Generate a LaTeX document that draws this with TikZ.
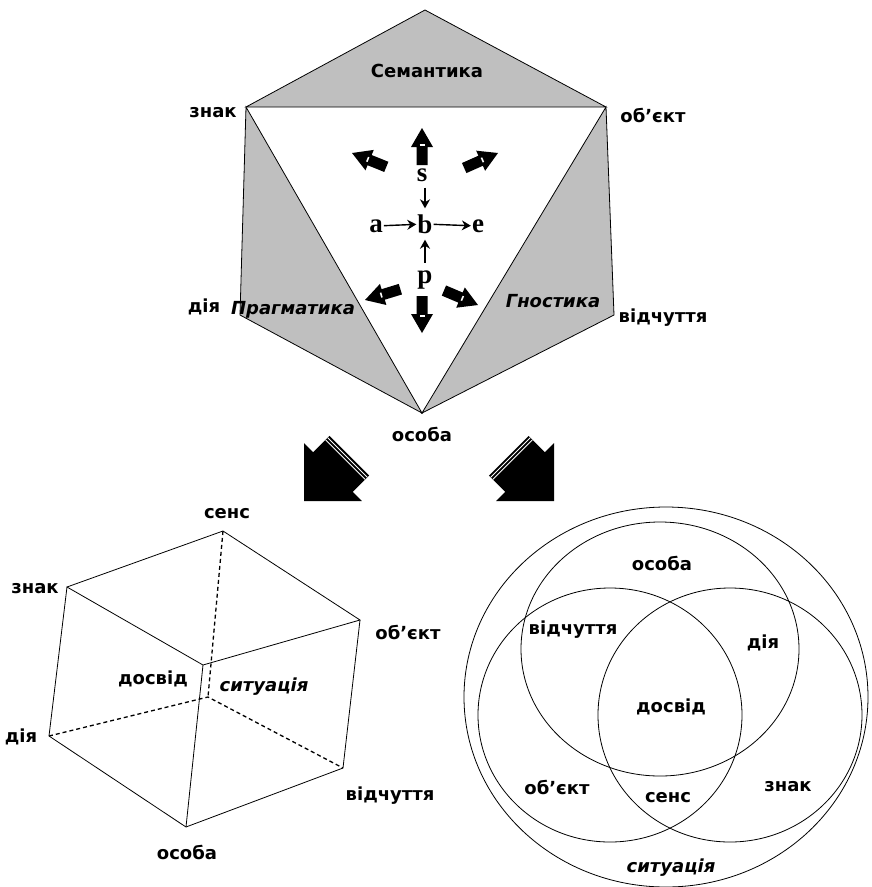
\documentclass[tikz,border=0pt]{standalone}
\usepackage{fontspec}
\setmainfont{DejaVu Sans}
\newfontfamily\lettfont{Liberation Serif}
\usetikzlibrary{arrows.meta,positioning}

% small block arrow: tip x, tip y, angle
\newcommand{\blockarr}[3]{%
	\begin{scope}[shift={(#1,#2)},rotate=#3]
		\fill (0,0) -- (-19,11) -- (-19,5.5) -- (-37,5.5) -- (-37,-5.5) -- (-19,-5.5) -- (-19,-11) -- cycle;
		\draw[white,line width=1.6pt] (-17,-2.5) -- (-17,2.5);
	\end{scope}}
% big striped arrow: tip x, tip y, angle
\newcommand{\stripearr}[3]{%
	\begin{scope}[shift={(#1,#2)},rotate=#3]
		\fill (0,0) -- (-41,41) -- (-41,28) -- (-64,28) -- (-64,-28) -- (-41,-28) -- (-41,-41) -- cycle;
		\draw[white,line width=0.8pt] (-58.5,-28) -- (-58.5,28);
		\draw[white,line width=0.8pt] (-61.5,-28) -- (-61.5,28);
	\end{scope}}

\begin{document}
\begin{tikzpicture}[x=1pt,y=-1pt,
	lab/.style={font=\bfseries\fontsize{18}{20}\selectfont, inner sep=1pt},
	ilab/.style={font=\bfseries\itshape\fontsize{18}{20}\selectfont, inner sep=1pt},
	grayface/.style={fill=black!25, draw=black, line width=0.8pt},
	cubeline/.style={line width=0.8pt},
	hidden/.style={line width=1.3pt, dash pattern=on 4pt off 3pt},
	letter/.style={font=\lettfont\bfseries\fontsize{27}{29}\selectfont, inner sep=1pt},
	thinarrow/.style={line width=1.4pt, -{Stealth[length=9pt,width=10pt]}}]
	
	\useasboundingbox (0,0) rectangle (871,887);
	
	% triangle of signs
	\coordinate (apex) at (425,10);
	\coordinate (znak) at (246,107);
	\coordinate (obj) at (606,107);
	\coordinate (diia) at (240,315);
	\coordinate (vidch) at (614,315);
	\coordinate (osoba) at (422,413);
	
	\draw [grayface] (znak) -- (apex) -- (obj) -- cycle;
	\draw [grayface] (znak) -- (diia) -- (osoba) -- cycle;
	\draw [grayface] (obj) -- (vidch) -- (osoba) -- cycle;
	
	\node (semant) [lab] at (427,71) {Семантика};
	\node (pragm) [ilab] at (293,310) {Прагматика};
	\node (gnost) [ilab] at (553,301) {Гностика};
	\node (tznak) [lab] at (213,113) {знак};
	\node (tobj) [lab] at (653,115) {об’єкт};
	\node (tdiia) [lab] at (204,307) {дія};
	\node (tvidch) [lab] at (663,318) {відчуття};
	\node (tosoba) [lab] at (422,434) {особа};
	
	\node (s) [letter] at (422,175) {s};
	\node (b) [letter] at (425,224) {b};
	\node (a) [letter] at (376,226) {a};
	\node (e) [letter] at (478,226) {e};
	\node (p) [letter] at (425,280) {p};
	
	\draw [thinarrow] (a) -- (b);
	\draw [thinarrow] (b) -- (e);
	\draw [thinarrow, shorten <=5pt, shorten >=5pt] (s.south -| b) -- (b.north);
	\draw [thinarrow, shorten <=7pt, shorten >=5pt] (p.north -| b) -- (b.south);
	
	\blockarr{422}{128}{90}
	\blockarr{352}{153}{158}
	\blockarr{498}{153}{24}
	\blockarr{365}{300}{197}
	\blockarr{478}{305}{-23}
	\blockarr{422}{333}{270}
	
	\stripearr{304}{501}{225}
	\stripearr{554}{501}{-45}
	
	% cube
	\coordinate (csens) at (223,531);
	\coordinate (cznak) at (67,587);
	\coordinate (cobj) at (360,620);
	\coordinate (cfront) at (203,665);
	\coordinate (cback) at (208,697);
	\coordinate (cdiia) at (49,736);
	\coordinate (cvidch) at (343,768);
	\coordinate (cosoba) at (186,827);
	
	\draw [cubeline] (cznak) -- (csens) -- (cobj) -- (cfront) -- cycle;
	\draw [cubeline] (cznak) -- (cdiia) -- (cosoba) -- (cvidch) -- (cobj);
	\draw [cubeline] (cfront) -- (cosoba);
	\draw [hidden] (csens) -- (cback);
	\draw [hidden] (cdiia) -- (cback) -- (cvidch);
	
	\node (lsens) [lab] at (227,514) {сенс};
	\node (lznak) [lab] at (35,589) {знак};
	\node (lobj) [lab] at (408,632) {об’єкт};
	\node (ldiia) [lab] at (21,737) {дія};
	\node (lvidch) [lab] at (390,796) {відчуття};
	\node (losoba) [lab] at (187,852) {особа};
	\node (ldosvid) [lab] at (153,679) {досвід};
	\node (lsit) [ilab] at (264,687) {ситуація};
	
	% circles
	\draw [cubeline] (666,697) ellipse [x radius=202, y radius=190];
	\draw [cubeline] (660,649) ellipse [x radius=139, y radius=127];
	\draw [cubeline] (610,715) ellipse [x radius=132, y radius=127];
	\draw [cubeline] (730,715) ellipse [x radius=132, y radius=127];
	
	\node (vosoba) [lab] at (662,563) {особа};
	\node (vvidch) [lab] at (573,630) {відчуття};
	\node (vdiia) [lab] at (763,643) {дія};
	\node (vdosvid) [lab] at (671,707) {досвід};
	\node (vobj) [lab] at (557,787) {об’єкт};
	\node (vsens) [lab] at (668,798) {сенс};
	\node (vznak) [lab] at (788,787) {знак};
	\node (vsit) [ilab] at (671,868) {ситуація};
\end{tikzpicture}
\end{document}
